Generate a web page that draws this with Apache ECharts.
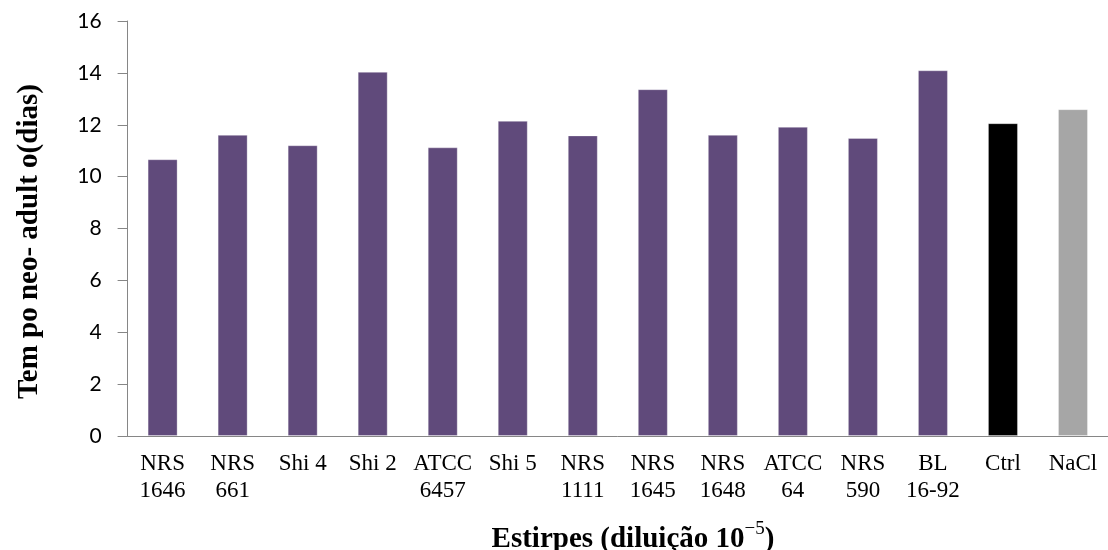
<!DOCTYPE html>
<html>
<head>
<meta charset="utf-8">
<script src="https://cdn.jsdelivr.net/npm/echarts@6/dist/echarts.min.js"></script>
<style>
html,body{margin:0;padding:0;background:#fff;}
#chart{width:1108px;height:550px;}
</style>
</head>
<body>
<div id="chart"></div>
<script>
// ---- data ----
const categories = ['NRS\n1646','NRS\n661','Shi 4','Shi 2','ATCC\n6457','Shi 5','NRS\n1111','NRS\n1645','NRS\n1648','ATCC\n64','NRS\n590','BL\n16-92','Ctrl','NaCl'];
const values = [10.67, 11.61, 11.21, 14.04, 11.13, 12.15, 11.59, 13.37, 11.61, 11.92, 11.49, 14.10, 12.06, 12.60];
const yTicks = { min: 0, max: 16, interval: 2 };
const yTitle = 'Tem po neo- adult o(dias)';
const xTitleMain = 'Estirpes (diluição 10';
const xTitleSup = '\u22125';
const xTitleEnd = ')';

// ---- styles ----
const barColors = ['#604A7B','#604A7B','#604A7B','#604A7B','#604A7B','#604A7B','#604A7B','#604A7B','#604A7B','#604A7B','#604A7B','#604A7B','#000000','#A6A6A6'];

const chart = echarts.init(document.getElementById('chart'), null, {renderer:'canvas'});
chart.setOption({
  animation: false,
  backgroundColor: '#ffffff',
  grid: { left: 127.6, right: -10.4, top: 21, bottom: 114, containLabel: false },
  xAxis: {
    type: 'category',
    data: categories,
    axisLine: { show: true, lineStyle: { color: '#868686', width: 1 } },
    axisTick: { show: false },
    axisLabel: {
      interval: 0,
      margin: 14,
      color: '#000',
      fontFamily: '"Liberation Serif", "Times New Roman", serif',
      fontSize: 23,
      lineHeight: 27,
      align: 'center'
    }
  },
  yAxis: {
    type: 'value',
    min: yTicks.min, max: yTicks.max, interval: yTicks.interval,
    axisLine: { show: true, lineStyle: { color: '#868686', width: 1 } },
    axisTick: { show: true, length: 10, inside: false, lineStyle: { color: '#868686' } },
    splitLine: { show: false },
    axisLabel: {
      margin: 26,
      color: '#000',
      fontFamily: 'Lato, "Open Sans", sans-serif',
      fontSize: 21
    }
  },
  series: [{
    type: 'bar',
    barWidth: 30,
    itemStyle: { borderColor: 'rgba(255,255,255,0.3)', borderWidth: 1 },
    data: values.map((v, i) => ({ value: v, itemStyle: { color: barColors[i] } }))
  }],
  graphic: [
    {
      type: 'text',
      x: 30, y: 241.5,
      rotation: Math.PI / 2,
      style: {
        text: yTitle,
        font: 'bold 29px "Liberation Serif", "Times New Roman", serif',
        fill: '#000',
        align: 'center',
        verticalAlign: 'middle'
      }
    },
    {
      type: 'text',
      x: 633, y: 540,
      style: {
        text: '{a|' + xTitleMain + '}{s|' + xTitleSup + '}{a|' + xTitleEnd + '}',
        align: 'center',
        verticalAlign: 'middle',
        rich: {
          a: { fontFamily: '"Liberation Serif", serif', fontWeight: 'bold', fontSize: 29, lineHeight: 40, fill: '#000', verticalAlign: 'middle' },
          s: { fontFamily: '"Liberation Serif", serif', fontWeight: 'normal', fontSize: 19, lineHeight: 20, fill: '#000', verticalAlign: 'top' }
        }
      }
    }
  ]
});
</script>
</body>
</html>
